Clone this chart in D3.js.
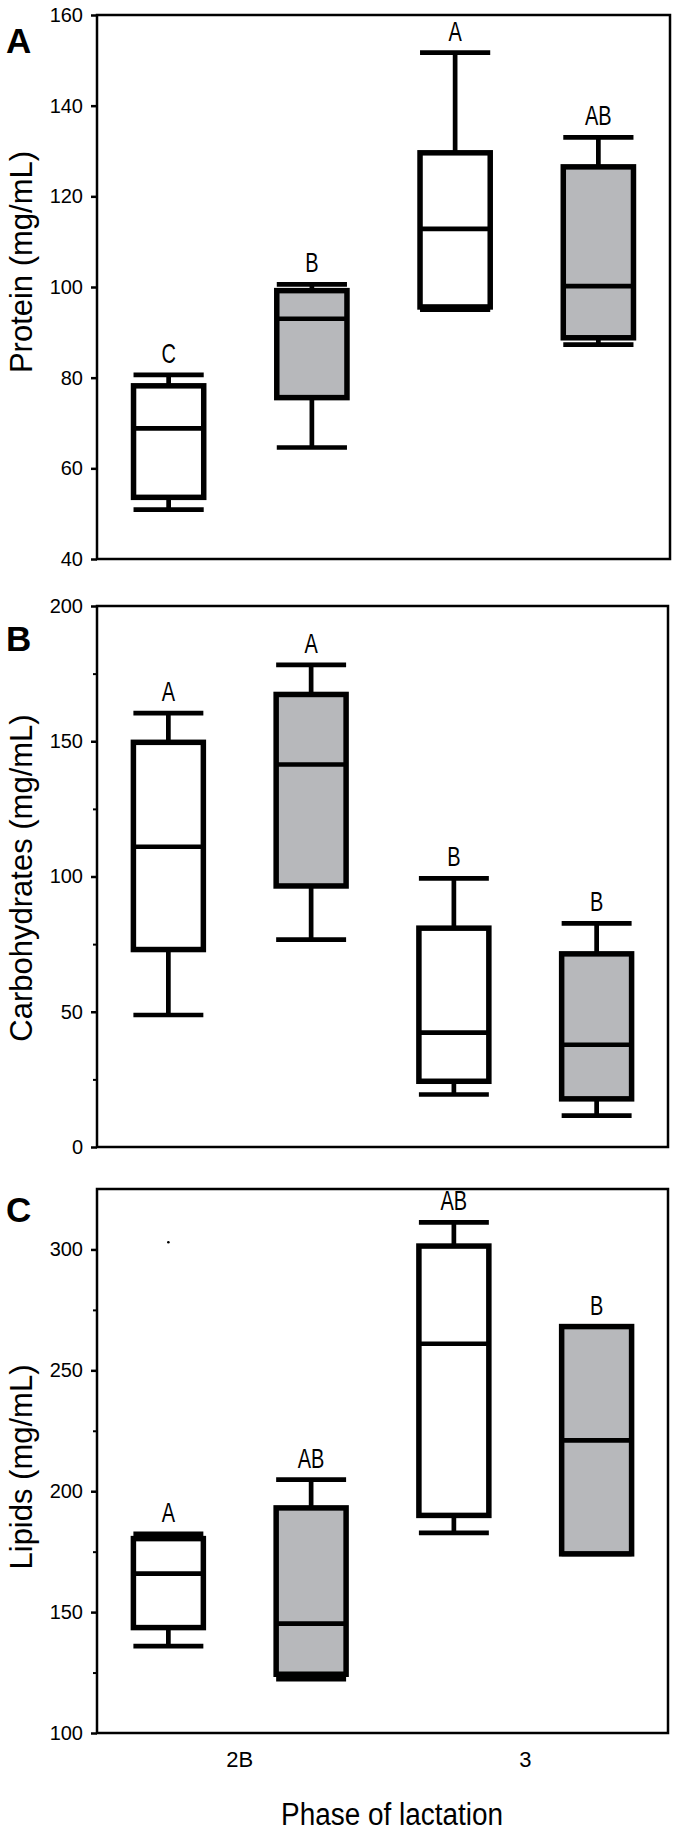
<!DOCTYPE html>
<html><head><meta charset="utf-8">
<script src="https://cdn.jsdelivr.net/npm/d3@7"></script>
<style>body{margin:0;background:#fff} svg{display:block}</style>
</head><body>
<svg id="c" width="679" height="1832"></svg>
<script>
// ---------- data ----------
const boxIndex = [0, 1, 2, 3];
const boxFills = ["#ffffff", "#b7b8bb", "#ffffff", "#b7b8bb"];
const xCategories = ["2B", "3"];
const xTitle = "Phase of lactation";

// [min, q1, median, q3, max]
const proteinBoxes = [
  [50.9, 53.6, 68.8, 78.2, 80.6],
  [64.6, 75.6, 93.0, 99.2, 100.6],
  [95.0, 95.6, 112.8, 129.6, 151.7],
  [87.3, 88.8, 100.2, 126.5, 133.0]
];
const proteinLetters = ["C", "B", "A", "AB"];
const proteinTicks = [40, 60, 80, 100, 120, 140, 160];
const proteinMinor = [];
const proteinDomain = [40, 160];

const carbBoxes = [
  [48.8, 73.0, 111.0, 149.6, 160.4],
  [76.7, 96.5, 141.4, 167.3, 178.2],
  [19.4, 24.3, 42.3, 80.9, 99.3],
  [11.6, 17.8, 37.8, 71.4, 82.7]
];
const carbLetters = ["A", "A", "B", "B"];
const carbTicks = [0, 50, 100, 150, 200];
const carbMinor = [25, 75, 125, 175];
const carbDomain = [0, 200];

const lipidBoxes = [
  [135.9, 143.6, 165.9, 180.4, 182.4],
  [122.3, 124.3, 145.2, 193.1, 204.8],
  [182.8, 190.0, 261.0, 301.4, 311.2],
  [174.1, 174.1, 221.0, 268.1, 268.1]
];
const lipidLetters = ["A", "AB", "AB", "B"];
const lipidTicks = [100, 150, 200, 250, 300];
const lipidMinor = [125, 175, 225, 275];
const lipidDomain = [100, 325];
const lipidOutliers = [[0, 303]];

const panelLetters = ["A", "B", "C"];
const yTitles = ["Protein (mg/mL)", "Carbohydrates (mg/mL)", "Lipids (mg/mL)"];

// ---------- layout ----------
const LEFT = 97;
const layout = [
  {top: 15, bottom: 559, right: 670, labelY: 262, letterY: 53},
  {top: 606, bottom: 1147, right: 668, labelY: 878, letterY: 651},
  {top: 1189, bottom: 1733, right: 668, labelY: 1467, letterY: 1222}
];
const panels = [
  {boxes: proteinBoxes, letters: proteinLetters, ticks: proteinTicks, minor: proteinMinor, domain: proteinDomain, outliers: []},
  {boxes: carbBoxes, letters: carbLetters, ticks: carbTicks, minor: carbMinor, domain: carbDomain, outliers: []},
  {boxes: lipidBoxes, letters: lipidLetters, ticks: lipidTicks, minor: lipidMinor, domain: lipidDomain, outliers: lipidOutliers}
];

const FONT = "'Liberation Sans', Arial, Helvetica, sans-serif";
const svg = d3.select("#c");

panels.forEach((p, i) => {
  const L = layout[i];
  const y = d3.scaleLinear().domain(p.domain).range([L.bottom, L.top]);
  const x = d3.scaleBand().domain(boxIndex).range([LEFT, L.right]);
  const bw = x.bandwidth() * 0.49;
  const cx = j => x(j) + x.bandwidth() / 2;
  const g = svg.append("g");

  // minor ticks
  if (p.minor.length) {
    const mn = g.append("g").attr("transform", `translate(${LEFT},0)`)
      .call(d3.axisLeft(y).tickValues(p.minor).tickSize(4).tickFormat(""));
    mn.select(".domain").remove();
    mn.selectAll("line").attr("stroke", "#000").attr("stroke-width", 2);
  }
  // major ticks
  const ax = g.append("g").attr("transform", `translate(${LEFT},0)`)
    .call(d3.axisLeft(y).tickValues(p.ticks).tickSize(6).tickPadding(8));
  ax.select(".domain").remove();
  ax.selectAll("line").attr("stroke", "#000").attr("stroke-width", 2.5);
  ax.selectAll("text").attr("font-family", FONT).attr("font-size", 20).attr("fill", "#000");

  // frame
  g.append("rect")
    .attr("x", LEFT).attr("y", L.top)
    .attr("width", L.right - LEFT).attr("height", L.bottom - L.top)
    .attr("fill", "none").attr("stroke", "#000").attr("stroke-width", 2.5);

  // boxes
  const bg = g.selectAll("g.box").data(p.boxes).join("g").attr("class", "box");
  bg.append("line").attr("x1", (d, j) => cx(j)).attr("x2", (d, j) => cx(j))
    .attr("y1", d => y(d[4])).attr("y2", d => y(d[3]))
    .attr("stroke", "#000").attr("stroke-width", 4.7);
  bg.append("line").attr("x1", (d, j) => cx(j)).attr("x2", (d, j) => cx(j))
    .attr("y1", d => y(d[1])).attr("y2", d => y(d[0]))
    .attr("stroke", "#000").attr("stroke-width", 4.7);
  bg.append("line").attr("x1", (d, j) => cx(j) - bw / 2).attr("x2", (d, j) => cx(j) + bw / 2)
    .attr("y1", d => y(d[4])).attr("y2", d => y(d[4]))
    .attr("stroke", "#000").attr("stroke-width", 4.7);
  bg.append("line").attr("x1", (d, j) => cx(j) - bw / 2).attr("x2", (d, j) => cx(j) + bw / 2)
    .attr("y1", d => y(d[0])).attr("y2", d => y(d[0]))
    .attr("stroke", "#000").attr("stroke-width", 4.7);
  bg.append("rect")
    .attr("x", (d, j) => cx(j) - bw / 2).attr("y", d => y(d[3]))
    .attr("width", bw).attr("height", d => y(d[1]) - y(d[3]))
    .attr("fill", (d, j) => boxFills[j])
    .attr("stroke", "#000").attr("stroke-width", 5.5);
  bg.append("line").attr("x1", (d, j) => cx(j) - bw / 2).attr("x2", (d, j) => cx(j) + bw / 2)
    .attr("y1", d => y(d[2])).attr("y2", d => y(d[2]))
    .attr("stroke", "#000").attr("stroke-width", 4.7);

  // significance letters (condensed)
  bg.append("text")
    .attr("transform", (d, j) => `translate(${cx(j)},${y(d[4]) - 12}) scale(0.74,1)`)
    .attr("text-anchor", "middle")
    .attr("font-family", FONT).attr("font-size", 27).attr("fill", "#000")
    .text((d, j) => p.letters[j]);

  // outliers
  g.selectAll("circle.out").data(p.outliers).join("circle").attr("class", "out")
    .attr("cx", d => cx(d[0])).attr("cy", d => y(d[1])).attr("r", 1.3).attr("fill", "#000");

  // y title
  g.append("text")
    .attr("transform", `translate(32,${L.labelY}) rotate(-90)`)
    .attr("text-anchor", "middle")
    .attr("font-family", FONT).attr("font-size", 31).attr("fill", "#000")
    .text(yTitles[i]);

  // panel letter
  g.append("text").attr("x", 6).attr("y", L.letterY)
    .attr("font-family", FONT).attr("font-size", 35).attr("font-weight", "bold").attr("fill", "#000")
    .text(panelLetters[i]);

  // x axis on last panel
  if (i === panels.length - 1) {
    const xc = d3.scaleBand().domain(xCategories).range([LEFT, L.right]);
    const xa = g.append("g").attr("transform", `translate(0,${L.bottom})`)
      .call(d3.axisBottom(xc).tickSize(0).tickPadding(18));
    xa.select(".domain").remove();
    xa.selectAll("text").attr("font-family", FONT).attr("font-size", 22).attr("fill", "#000");
    g.append("text").attr("x", 392).attr("y", 1825)
      .attr("text-anchor", "middle")
      .attr("font-family", FONT).attr("font-size", 31).attr("fill", "#000")
      .attr("textLength", 222).attr("lengthAdjust", "spacingAndGlyphs")
      .text(xTitle);
  }
});
</script>
</body></html>
